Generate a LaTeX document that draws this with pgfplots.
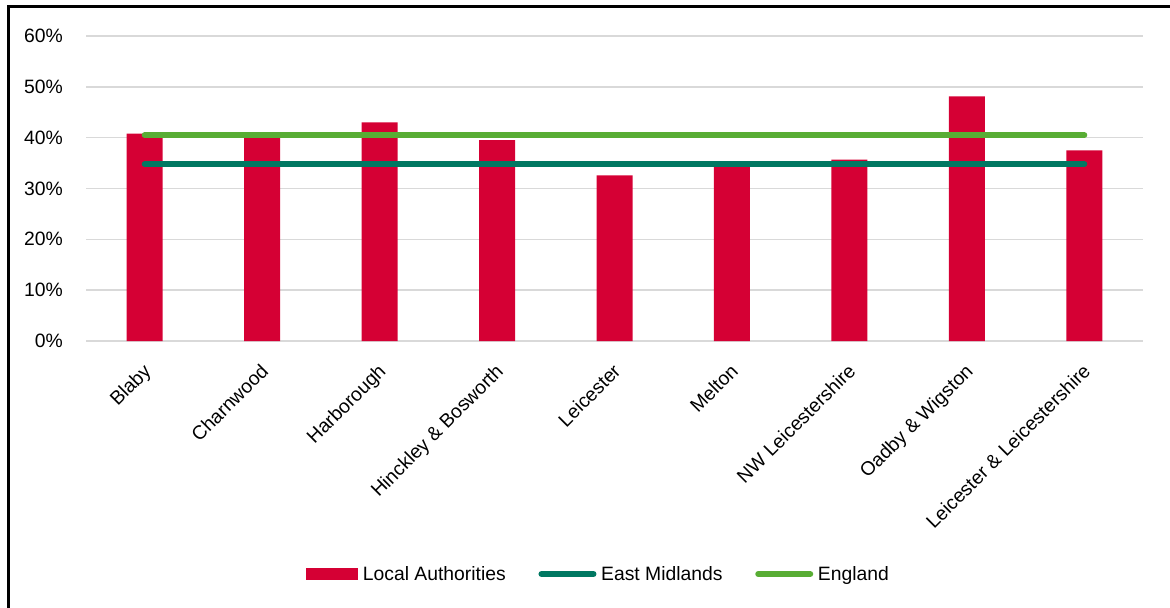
\documentclass[border=0pt]{standalone}
\usepackage{fontspec}
\setmainfont{Liberation Sans}
\usepackage{pgfplots}
\pgfplotsset{compat=1.18}
\definecolor{barred}{RGB}{213,0,52}
\definecolor{emteal}{RGB}{0,120,98}
\definecolor{enggreen}{RGB}{88,173,52}
\definecolor{gridgray}{RGB}{217,217,217}
\begin{document}
\begin{tikzpicture}[font=\fontsize{14.5}{17}\selectfont]
\useasboundingbox (0,0) rectangle (877.5pt,455.25pt);
\draw[line width=2pt] (6.5pt,-5pt) -- (6.5pt,450.6pt) -- (890pt,450.6pt);
\begin{axis}[
  at={(64.5pt,199.5pt)}, anchor=south west,
  scale only axis, width=792.75pt, height=228.75pt,
  xmin=-0.5, xmax=8.5, ymin=0, ymax=60,
  ytick={0,10,...,60},
  yticklabel={\pgfmathprintnumber{\tick}\%},
  /pgf/number format/assume math mode=true,
  xtick={0,...,8},
  xticklabels={Blaby,Charnwood,Harborough,Hinckley \& Bosworth,Leicester,Melton,NW Leicestershire,Oadby \& Wigston,Leicester \& Leicestershire},
  xticklabel style={xshift=-2pt, yshift=-16pt, rotate=45, anchor=north east, inner sep=0pt},
  yticklabel style={anchor=east, inner sep=0pt, xshift=-17.25pt},
  ymajorgrids, grid style={gridgray, line width=1.2pt},
  axis line style={draw=none}, major tick length=0pt,
  clip=false,
  legend columns=3,
  legend style={at={(0.2081,-0.764)}, anchor=west, draw=none, fill=none, inner sep=0pt,
    /tikz/every odd column/.append style={column sep=3.5pt},
    /tikz/every even column/.append style={column sep=24.5pt},
    nodes={inner sep=0pt, anchor=west}},
]
\addplot[ybar, bar width=27pt, fill=barred, draw=none,
  legend image code/.code={\fill[barred] (0pt,-4.5pt) rectangle (39pt,4.5pt);}]
  coordinates {(0,40.8) (1,40.3) (2,43.0) (3,39.5) (4,32.6) (5,34.8) (6,35.7) (7,48.1) (8,37.5)};
\addlegendentry{Local Authorities}
\addplot[emteal, line width=4.5pt, line cap=round, mark=none,
  legend image code/.code={\draw[emteal, line width=4.5pt, line cap=round] (2.25pt,0pt) -- (41.25pt,0pt);}]
  coordinates {(0,34.8) (1,34.8) (2,34.8) (3,34.8) (4,34.8) (5,34.8) (6,34.8) (7,34.8) (8,34.8)};
\addlegendentry{East Midlands}
\addplot[enggreen, line width=4.5pt, line cap=round, mark=none,
  legend image code/.code={\draw[enggreen, line width=4.5pt, line cap=round] (2.25pt,0pt) -- (41.25pt,0pt);}]
  coordinates {(0,40.5) (1,40.5) (2,40.5) (3,40.5) (4,40.5) (5,40.5) (6,40.5) (7,40.5) (8,40.5)};
\addlegendentry{England}
\end{axis}
\end{tikzpicture}
\end{document}
